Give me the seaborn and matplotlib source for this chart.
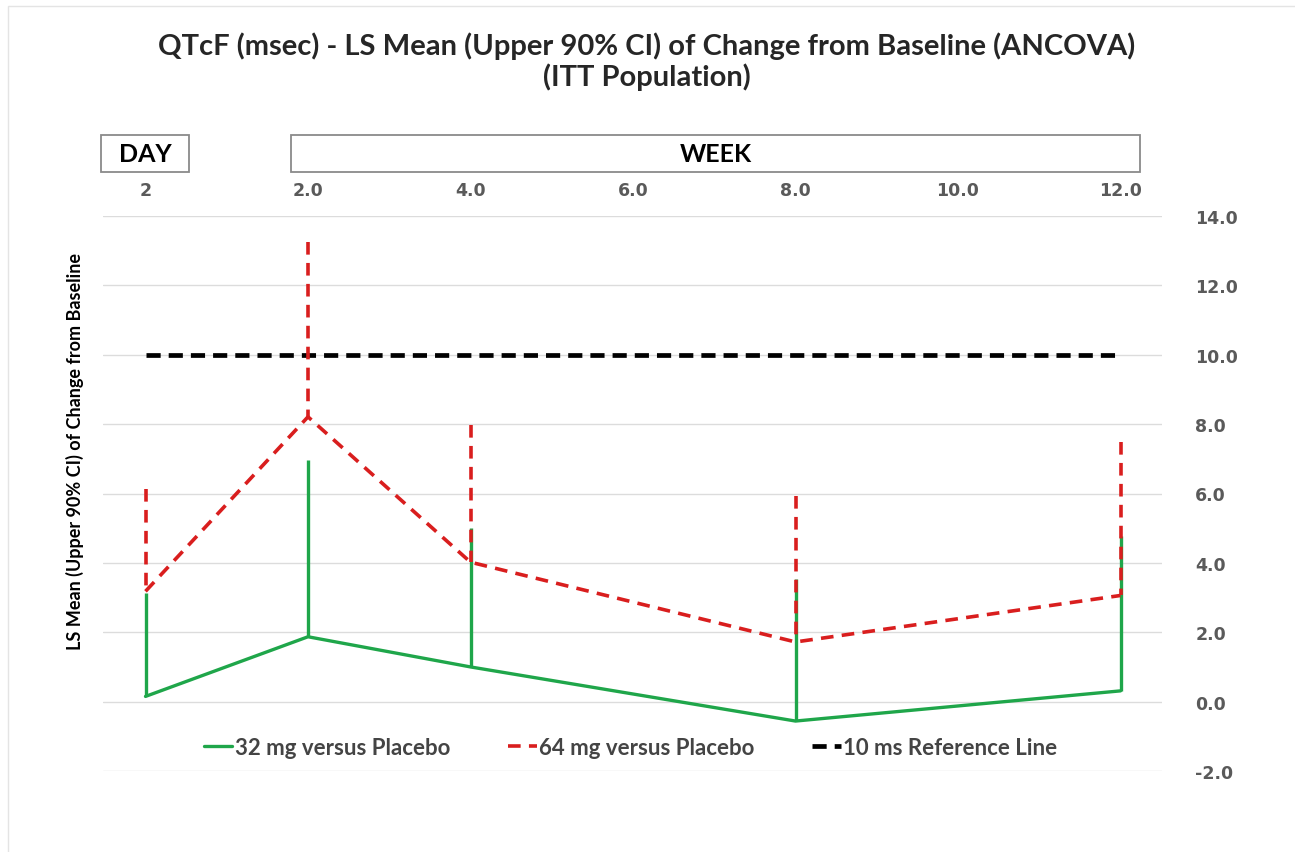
import matplotlib
matplotlib.use("Agg")
import matplotlib.pyplot as plt
from matplotlib.patches import Rectangle
from matplotlib.lines import Line2D
import seaborn as sns
import pandas as pd

# x position in weeks (Day 2 is drawn at the origin)
visit_x = [0, 2, 4, 8, 12]
top_ticks = [0, 2, 4, 6, 8, 10, 12]
top_tick_labels = ["2", "2.0", "4.0", "6.0", "8.0", "10.0", "12.0"]
y_ticks = [-2, 0, 2, 4, 6, 8, 10, 12, 14]

mean_32 = [0.15, 1.87, 1.0, -0.56, 0.31]
upper_32 = [3.12, 6.97, 5.0, 3.54, 4.78]
mean_64 = [3.18, 8.21, 4.02, 1.72, 3.06]
upper_64 = [6.14, 13.25, 7.97, 5.93, 7.48]
ref_level = 10.0

labels = ["32 mg versus Placebo", "64 mg versus Placebo", "10 ms Reference Line"]

GREEN = "#1fa64a"
RED = "#d91e1e"
GRID = "#dcdcdc"
TICK = "#5a5a5a"

sns.set_style("white")
plt.rcParams["font.family"] = ["Lato", "DejaVu Sans"]

W, H = 1295, 853
fig = plt.figure(figsize=(W / 100, H / 100), dpi=100)
ax = fig.add_axes([103 / W, 1 - 772 / H, (1162 - 103) / W, (772 - 217) / H])

df32 = pd.DataFrame({"x": visit_x, "y": mean_32})
df64 = pd.DataFrame({"x": visit_x, "y": mean_64})
dfref = pd.DataFrame({"x": [visit_x[0], visit_x[-1]], "y": [ref_level, ref_level]})

dash_red = (0, (3.5, 2.3))
dash_blk = (0, (3.0, 1.7))

sns.lineplot(data=dfref, x="x", y="y", ax=ax, color="black", lw=3.4,
             linestyle=dash_blk, zorder=2)
ax.vlines(visit_x, mean_32, upper_32, colors=GREEN, lw=2.4, zorder=3)
sns.lineplot(data=df32, x="x", y="y", ax=ax, color=GREEN, lw=2.4, zorder=3)
# CI whiskers drawn top-down so the dash pattern starts at the upper limit
ax.vlines(visit_x, upper_64, mean_64, colors=RED, lw=2.6, linestyles=[dash_red], zorder=4)
sns.lineplot(data=df64, x="x", y="y", ax=ax, color=RED, lw=2.6, linestyle=dash_red, zorder=4)

ax.set_xlim((103 - 145.5) / 81.25, (1162 - 145.5) / 81.25)
ax.set_ylim(-2, 14)
ax.set_yticks(y_ticks)
ax.set_yticklabels([f"{v:.1f}" for v in y_ticks], family="DejaVu Sans",
                   fontweight="bold", color=TICK, fontsize=12.5)
ax.yaxis.tick_right()
ax.tick_params(axis="y", length=0, pad=24)
ax.xaxis.tick_top()
ax.set_xticks(top_ticks)
ax.set_xticklabels(top_tick_labels, family="DejaVu Sans", fontweight="bold",
                   color=TICK, fontsize=12.5)
ax.tick_params(axis="x", length=0, pad=12)
ax.set_xlabel("")
ax.set_ylabel("")
ax.grid(axis="y", color=GRID, lw=1)
ax.grid(axis="x", visible=False)
for s in ax.spines.values():
    s.set_visible(False)

fig.text(75 / W, 1 - 452 / H, "LS Mean (Upper 90% CI) of Change from Baseline",
         rotation=90, ha="center", va="center", fontsize=13, fontweight="bold",
         color="black")

fig.text(0.5 * (153 + 1140) / W, 1 - 46 / H,
         "QTcF (msec) - LS Mean (Upper 90% CI) of Change from Baseline (ANCOVA)",
         ha="center", va="center", fontsize=21, fontweight="bold")
fig.text(0.5 * (153 + 1140) / W, 1 - 77 / H, "(ITT Population)",
         ha="center", va="center", fontsize=21, fontweight="bold")

# DAY / WEEK header boxes
for x0, x1, txt in [(101, 189, "DAY"), (291, 1140, "WEEK")]:
    fig.patches.append(Rectangle((x0 / W, 1 - 173 / H), (x1 - x0) / W, 37 / H,
                                 transform=fig.transFigure, fill=False,
                                 edgecolor="#8a8a8a", lw=1.3))
    fig.text((x0 + x1) / 2 / W, 1 - 155 / H, txt, ha="center", va="center",
             fontsize=18, fontweight="bold", color="black")

handles = [
    Line2D([], [], color=GREEN, lw=2.4),
    Line2D([], [], color=RED, lw=2.6, linestyle=dash_red),
    Line2D([], [], color="black", lw=3.4, linestyle=dash_blk),
]
leg = ax.legend(handles, labels, loc="center", bbox_to_anchor=(0.498, 0.043),
                ncol=3, frameon=False, handlelength=1.3, handletextpad=0.1,
                columnspacing=2.6, prop={"weight": "bold", "size": 16})
for t in leg.get_texts():
    t.set_color("#444444")

# faint outer frame
fig.patches.append(Rectangle((8 / W, -0.1), 1.2, 1 - 7 / H + 0.1,
                             transform=fig.transFigure, fill=False,
                             edgecolor="#e4e4e4", lw=1))

fig.savefig("out.png", dpi=100)
